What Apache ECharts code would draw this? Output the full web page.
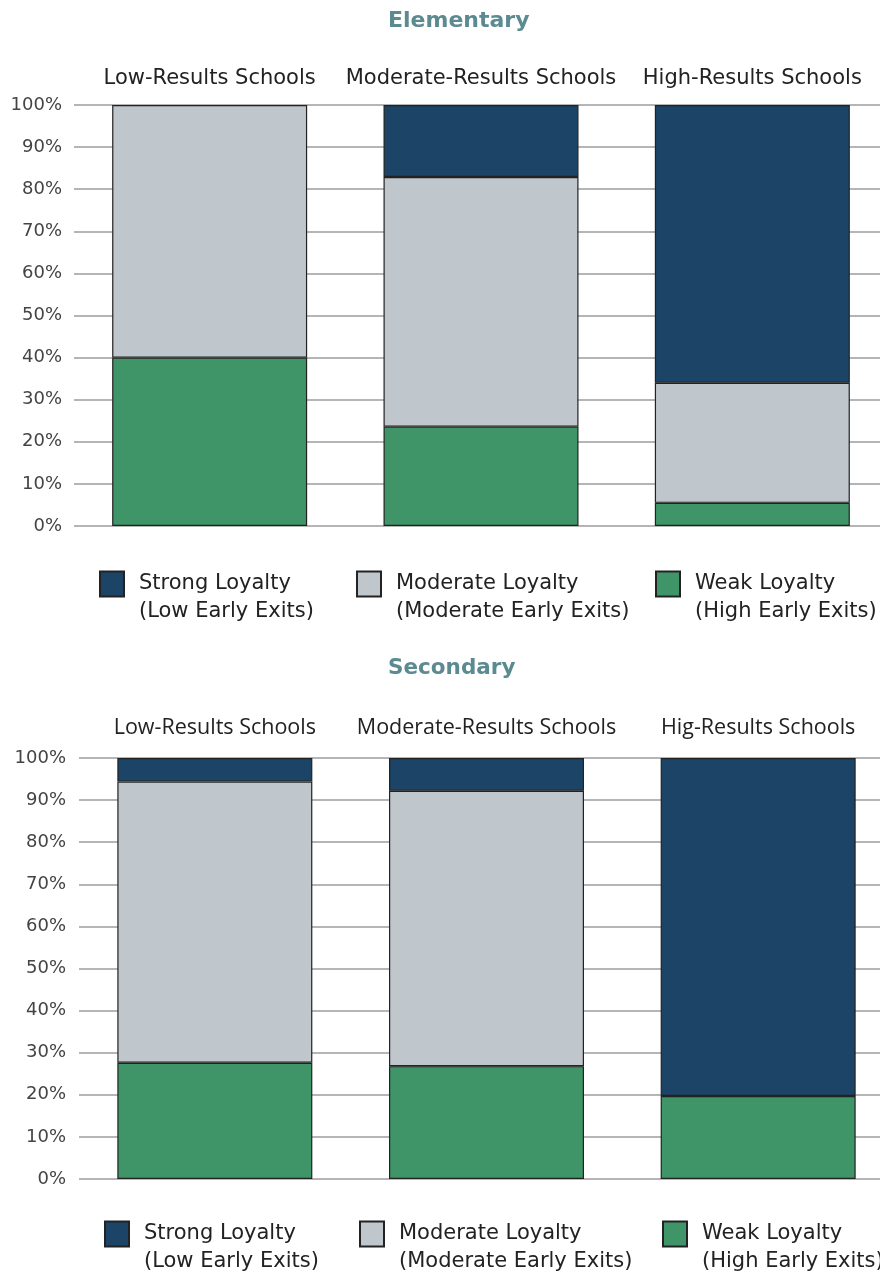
<!DOCTYPE html>
<html><head><meta charset="utf-8">
<script src="https://cdn.jsdelivr.net/npm/echarts@6/dist/echarts.min.js"></script>
<style>html,body{margin:0;padding:0;background:#fff}#c{width:880px;height:1275px}</style>
</head><body><div id="c"></div>
<script>
const elemCategories = ['Low-Results Schools', 'Moderate-Results Schools', 'High-Results Schools'];
const secCategories = ['Low-Results Schools', 'Moderate-Results Schools', 'Hig-Results Schools'];
const seriesNames = ['Strong Loyalty', 'Moderate Loyalty', 'Weak Loyalty'];
const legendSub = ['(Low Early Exits)', '(Moderate Early Exits)', '(High Early Exits)'];
const elemWeak = [40, 23.6, 5.5];
const elemModerate = [60, 59.3, 28.5];
const elemStrong = [0, 17.1, 66];
const secWeak = [27.6, 26.8, 19.7];
const secModerate = [66.8, 65.4, 0];
const secStrong = [5.6, 7.8, 80.3];
const titles = ['Elementary', 'Secondary'];

const colors = {'Strong Loyalty': '#1b4466', 'Moderate Loyalty': '#bfc6cc', 'Weak Loyalty': '#3f9468'};
const FONT = 'DejaVu Sans';
const chart = echarts.init(document.getElementById('c'), null, {renderer: 'canvas'});

function mkSeries(name, data, idx) {
  return {
    name: name, type: 'bar', stack: 's' + idx, xAxisIndex: idx, yAxisIndex: idx,
    data: data.map(v => v === 0 ? '-' : v), barWidth: 195,
    itemStyle: {color: colors[name], borderColor: '#222', borderWidth: 1.2},
    emphasis: {disabled: true}
  };
}
function mkLegend(i, left, top) {
  return {
    data: [seriesNames[i]], left: left, top: top, padding: 0,
    icon: 'rect', itemWidth: 24, itemHeight: 25, selectedMode: false,
    formatter: n => ' \n' + n + '\n' + legendSub[i],
    textStyle: {fontFamily: FONT, fontSize: 21, color: '#222', lineHeight: 28, padding: [0, 0, 0, 10]}
  };
}
const legendLeftsE = [99, 356, 655];
const legendLeftsS = [104, 359, 662];

const option = {
  animation: false,
  title: [
    {text: titles[0], left: 383, top: 5, textStyle: {fontFamily: 'DejaVu Sans', fontWeight: 'bold', fontSize: 22, color: '#5b8a91'}},
    {text: titles[1], left: 383, top: 652, textStyle: {fontFamily: 'DejaVu Sans', fontWeight: 'bold', fontSize: 21.5, color: '#5b8a91'}}
  ],
  grid: [
    {left: 74, width: 814, top: 105, height: 421, outerBoundsMode: 'none', containLabel: false},
    {left: 79, width: 815, top: 758, height: 421, outerBoundsMode: 'none', containLabel: false}
  ],
  xAxis: [0, 1].map(i => ({
    type: 'category', gridIndex: i, position: 'top', data: i === 0 ? elemCategories : secCategories,
    axisLine: {show: false}, axisTick: {show: false},
    axisLabel: i === 0
      ? {fontFamily: FONT, fontSize: 21, color: '#222', margin: 16, interval: 0}
      : {fontFamily: 'Open Sans', fontSize: 21.5, color: '#222', margin: 19, interval: 0}
  })),
  yAxis: [0, 1].map(i => ({
    type: 'value', gridIndex: i, min: 0, max: 100, interval: 10,
    axisLine: {show: false}, axisTick: {show: false},
    axisLabel: {formatter: '{value}%', fontFamily: FONT, fontSize: 18, color: '#444', margin: i === 0 ? 12 : 13},
    splitLine: {lineStyle: {color: '#9c9c9c', width: 1.5}}
  })),
  legend: [
    mkLegend(0, legendLeftsE[0], 542), mkLegend(1, legendLeftsE[1], 542), mkLegend(2, legendLeftsE[2], 542),
    mkLegend(0, legendLeftsS[0], 1192), mkLegend(1, legendLeftsS[1], 1192), mkLegend(2, legendLeftsS[2], 1192)
  ],
  series: [
    mkSeries('Weak Loyalty', elemWeak, 0),
    mkSeries('Moderate Loyalty', elemModerate, 0),
    mkSeries('Strong Loyalty', elemStrong, 0),
    mkSeries('Weak Loyalty', secWeak, 1),
    mkSeries('Moderate Loyalty', secModerate, 1),
    mkSeries('Strong Loyalty', secStrong, 1)
  ]
};
chart.setOption(option);
</script></body></html>
